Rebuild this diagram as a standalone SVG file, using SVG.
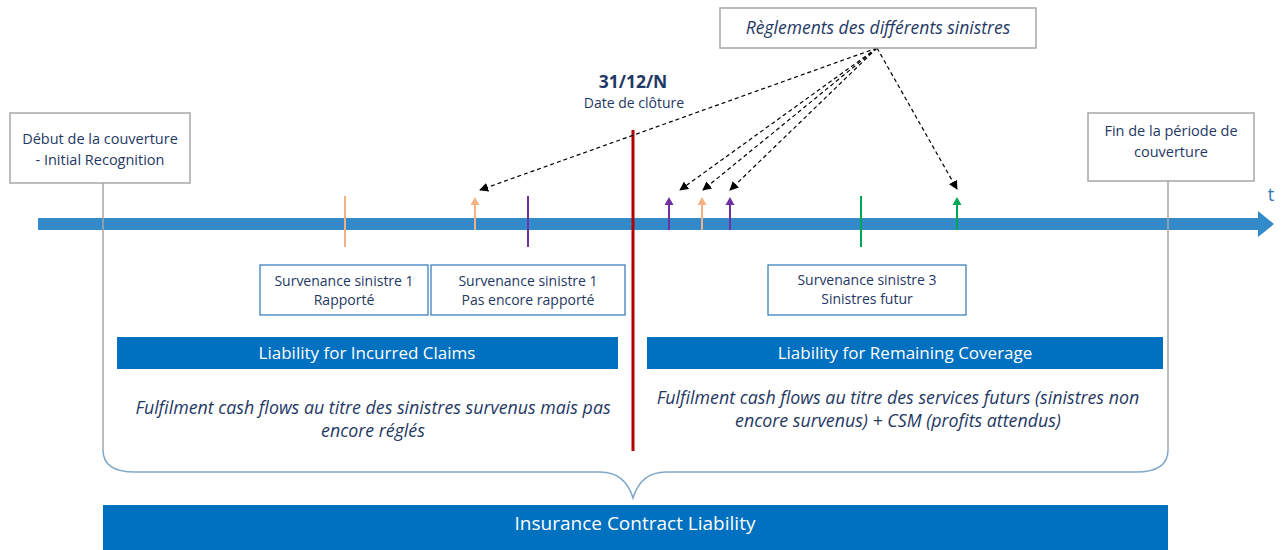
<svg xmlns="http://www.w3.org/2000/svg" width="1282" height="550" viewBox="0 0 1282 550">
<style>
.t{font-family:"Open Sans","Liberation Sans",sans-serif;fill:#1F3864;text-anchor:middle}
.it{font-style:italic}
.w{fill:#FFFFFF}
.gbox{fill:#FFFFFF;stroke:#A6A6A6;stroke-width:1.5}
.bbox{fill:#FFFFFF;stroke:#2E75B6;stroke-width:1.2}
.band{fill:#0070C0}
.dash{fill:none;stroke:#000;stroke-width:1.2;stroke-dasharray:4 3}
.grey{stroke:#A6A6A6;stroke-width:1.5;fill:none}
</style>
<defs>
<marker id="ah" viewBox="0 0 10 10" refX="9" refY="5" markerWidth="9" markerHeight="9" markerUnits="userSpaceOnUse" orient="auto">
<path d="M0,0 L10,5 L0,10 z" fill="#000"/>
</marker>
</defs>
<rect width="1282" height="550" fill="#FFFFFF"/>

<g id="timeline">
<rect x="38" y="218" width="1222" height="12" fill="#338ACB"/>
<path d="M1258,211 L1274,224 L1258,237 z" fill="#338ACB"/>
<text x="1271" y="201" font-family="'Open Sans','Liberation Sans',sans-serif" font-size="18" fill="#2E75B6" text-anchor="middle">t</text>
</g>

<g id="ticks">
<line x1="345" y1="196" x2="345" y2="247" stroke="#F4B183" stroke-width="2"/>
<line x1="528" y1="196" x2="528" y2="247" stroke="#7030A0" stroke-width="2"/>
<line x1="861" y1="196" x2="861" y2="247" stroke="#00A651" stroke-width="2"/>
<line x1="475" y1="230" x2="475" y2="203" stroke="#F4B183" stroke-width="2"/>
<path d="M470.5,205 L475,197 L479.5,205 z" fill="#F4B183"/>
<line x1="669" y1="230" x2="669" y2="203" stroke="#7030A0" stroke-width="2"/>
<path d="M664.5,205 L669,197 L673.5,205 z" fill="#7030A0"/>
<line x1="702" y1="230" x2="702" y2="203" stroke="#F4B183" stroke-width="2"/>
<path d="M697.5,205 L702,197 L706.5,205 z" fill="#F4B183"/>
<line x1="730" y1="230" x2="730" y2="203" stroke="#7030A0" stroke-width="2"/>
<path d="M725.5,205 L730,197 L734.5,205 z" fill="#7030A0"/>
<line x1="957" y1="230" x2="957" y2="203" stroke="#00A651" stroke-width="2"/>
<path d="M952.5,205 L957,197 L961.5,205 z" fill="#00A651"/>
</g>

<g id="closing">
<line x1="633" y1="130" x2="633" y2="451" stroke="#B00000" stroke-width="3"/>
<text class="t" x="633" y="88" font-size="17.5" font-weight="bold">31/12/N</text>
<text class="t" x="634" y="108" font-size="14">Date de clôture</text>
</g>

<g id="connectors">
<line class="grey" x1="103" y1="183" x2="103" y2="450"/>
<line class="grey" x1="1168" y1="181" x2="1168" y2="450"/>
<path d="M103,450 Q103,472 135,472 L600,472 Q625,472 633,498 Q641,472 666,472 L1136,472 Q1168,472 1168,450" fill="none" stroke="#7FA7C9" stroke-width="1.5"/>
<line class="dash" x1="877" y1="48" x2="480" y2="190" marker-end="url(#ah)"/>
<line class="dash" x1="877" y1="48" x2="680" y2="190" marker-end="url(#ah)"/>
<line class="dash" x1="877" y1="48" x2="703" y2="190" marker-end="url(#ah)"/>
<line class="dash" x1="877" y1="48" x2="730" y2="190" marker-end="url(#ah)"/>
<line class="dash" x1="877" y1="48" x2="957" y2="189" marker-end="url(#ah)"/>
</g>

<g id="reglements">
<rect class="gbox" x="720" y="8" width="316" height="40" stroke-width="1.2"/>
<text class="t it" x="878" y="34" font-size="17.5">Règlements des différents sinistres</text>
</g>

<g id="debut">
<rect class="gbox" x="10" y="113" width="180" height="70"/>
<text class="t" x="100" y="144" font-size="14.5">Début de la couverture</text>
<text class="t" x="100" y="165" font-size="14.5">- Initial Recognition</text>
</g>

<g id="fin">
<rect class="gbox" x="1088" y="113" width="166" height="68"/>
<text class="t" x="1171" y="136" font-size="14.5">Fin de la période de</text>
<text class="t" x="1171" y="157" font-size="14.5">couverture</text>
</g>

<g id="s1r">
<rect class="bbox" x="260" y="265" width="168" height="50"/>
<text class="t" x="344" y="286" font-size="14">Survenance sinistre 1</text>
<text class="t" x="344" y="305" font-size="14">Rapporté</text>
</g>

<g id="s1p">
<rect class="bbox" x="431" y="265" width="194" height="50"/>
<text class="t" x="528" y="286" font-size="14">Survenance sinistre 1</text>
<text class="t" x="528" y="305" font-size="14">Pas encore rapporté</text>
</g>

<g id="s3">
<rect class="bbox" x="768" y="265" width="198" height="50"/>
<text class="t" x="867" y="285" font-size="14">Survenance sinistre 3</text>
<text class="t" x="867" y="304" font-size="14">Sinistres futur</text>
</g>

<g id="lic">
<rect class="band" x="117" y="337" width="501" height="32"/>
<text class="t w" x="367" y="359" font-size="17">Liability for Incurred Claims</text>
<text class="t it" x="373" y="414" font-size="17.8">Fulfilment cash flows au titre des sinistres survenus mais pas</text>
<text class="t it" x="373" y="437" font-size="17.8">encore réglés</text>
</g>

<g id="lrc">
<rect class="band" x="647" y="337" width="516" height="32"/>
<text class="t w" x="905" y="359" font-size="17">Liability for Remaining Coverage</text>
<text class="t it" x="898" y="404" font-size="17.8">Fulfilment cash flows au titre des services futurs (sinistres non</text>
<text class="t it" x="898" y="427" font-size="17.8">encore survenus) + CSM (profits attendus)</text>
</g>

<g id="icl">
<rect class="band" x="103" y="505" width="1065" height="45"/>
<text class="t w" x="635" y="530" font-size="19">Insurance Contract Liability</text>
</g>
</svg>
